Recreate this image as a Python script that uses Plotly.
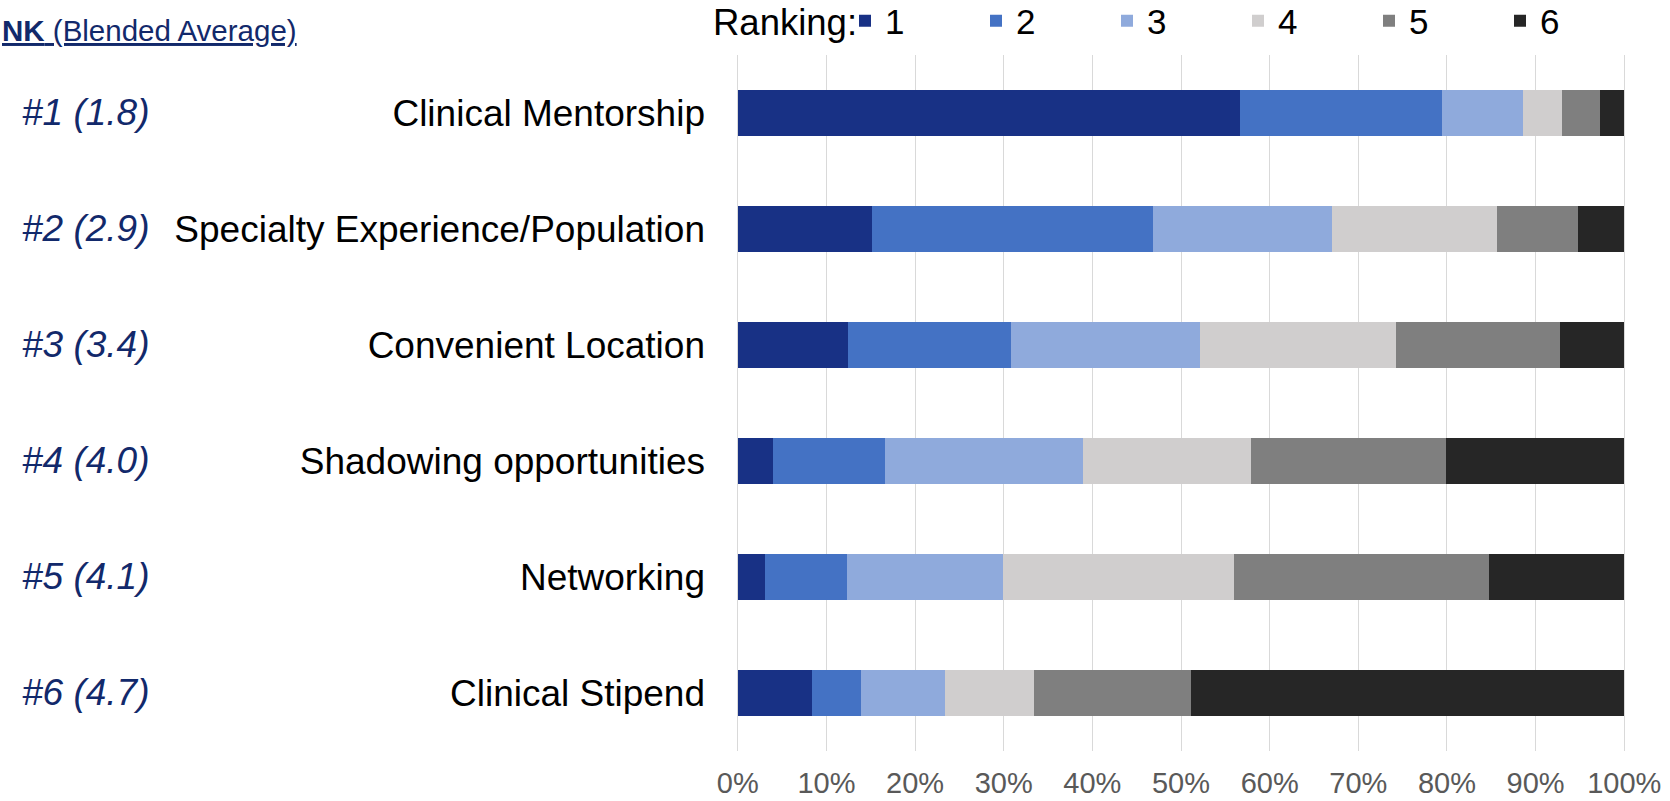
import plotly.graph_objects as go

categories = ["Clinical Mentorship", "Specialty Experience/Population", "Convenient Location",
              "Shadowing opportunities", "Networking", "Clinical Stipend"]
rank_labels = ["#1", "#2", "#3", "#4", "#5", "#6"]
blended_avg = [1.8, 2.9, 3.4, 4.0, 4.1, 4.7]

rank1 = [56.7, 15.1, 12.4, 4.0, 3.1, 8.4]
rank2 = [22.7, 31.7, 18.4, 12.6, 9.2, 5.5]
rank3 = [9.2, 20.2, 21.3, 22.3, 17.6, 9.5]
rank4 = [4.4, 18.6, 22.2, 19.0, 26.1, 10.0]
rank5 = [4.3, 9.2, 18.4, 22.0, 28.8, 17.7]
rank6 = [2.7, 5.2, 7.3, 20.1, 15.2, 48.9]

series = [rank1, rank2, rank3, rank4, rank5, rank6]
series_names = ["1", "2", "3", "4", "5", "6"]
colors = ["#183185", "#4472C4", "#8FAADC", "#D0CECE", "#7F7F7F", "#262626"]
x_ticks = [0, 10, 20, 30, 40, 50, 60, 70, 80, 90, 100]

FONT = "Liberation Sans, Arial, sans-serif"
NAVY = "#12296B"
ML, MR, MT, MB = 736, 44, 55, 50
PLOT_W = 1670 - ML - MR
PLOT_H = 801 - MT - MB

fig = go.Figure()
for name, vals, col in zip(series_names, series, colors):
    fig.add_trace(go.Bar(
        y=categories, x=vals, name=name, orientation="h",
        marker=dict(color=col, line=dict(width=0)),
        hoverinfo="x+y+name",
    ))

annotations = []
for cat, rl, avg in zip(categories, rank_labels, blended_avg):
    annotations.append(dict(
        x=(20 - ML) / PLOT_W, xref="paper", xanchor="left",
        y=cat, yref="y", yanchor="middle", yshift=1,
        text=f"<i>{rl} ({avg:.1f})</i>", showarrow=False,
        font=dict(family=FONT, size=37, color=NAVY),
    ))
annotations.append(dict(
    x=(0 - ML) / PLOT_W, xref="paper", xanchor="left",
    y=1 + (MT - 31) / PLOT_H, yref="paper", yanchor="middle",
    text="<b>NK</b> (Blended Average)", showarrow=False,
    font=dict(family=FONT, size=29.5, color=NAVY, lineposition="under"),
))
annotations.append(dict(
    x=(711 - ML) / PLOT_W, xref="paper", xanchor="left",
    y=1 + (MT - 22) / PLOT_H, yref="paper", yanchor="middle",
    text="Ranking:", showarrow=False,
    font=dict(family=FONT, size=36.5, color="black"),
))

fig.update_layout(
    width=1670, height=801,
    margin=dict(l=ML, r=MR, t=MT, b=MB, autoexpand=False),
    paper_bgcolor="white", plot_bgcolor="white",
    barmode="stack", bargap=0.6,
    font=dict(family=FONT, color="black"),
    showlegend=True,
    legend=dict(
        orientation="h", x=(845 - ML) / PLOT_W, xanchor="left",
        y=1 + (MT + 8.5) / PLOT_H, yanchor="top",
        font=dict(size=35, family=FONT, color="black"),
        itemwidth=30, entrywidth=86, entrywidthmode="pixels",
        traceorder="normal", bgcolor="rgba(0,0,0,0)",
    ),
    xaxis=dict(
        range=[-0.2, 100.2], tickvals=x_ticks, ticktext=[f"{v}%" for v in x_ticks],
        showgrid=True, gridcolor="#D9D9D9", gridwidth=1.3, zeroline=False,
        showline=False, ticks="", tickfont=dict(size=29, color="#595959", family=FONT),
        ticklabelstandoff=12, automargin=False, fixedrange=True,
    ),
    yaxis=dict(
        autorange="reversed", categoryorder="array", categoryarray=categories,
        showgrid=False, zeroline=False, showline=False, ticks="",
        tickfont=dict(size=37, color="black", family=FONT),
        ticklabelstandoff=30, automargin=False, fixedrange=True,
    ),
    annotations=annotations,
)

fig.write_html(
    "out.html",
    config={"displayModeBar": False},
    post_script="document.body.style.margin='0px';document.body.style.overflow='hidden';",
)
